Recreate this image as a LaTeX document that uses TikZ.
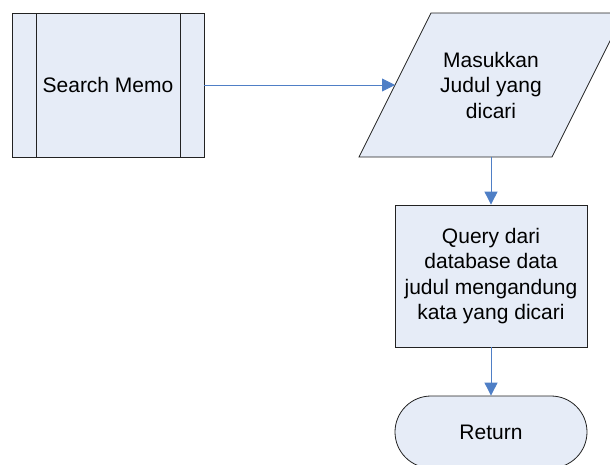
\documentclass[tikz,border=0pt]{standalone}
\usepackage{fontspec}
\setmainfont{Liberation Sans}
\usetikzlibrary{arrows.meta}
\definecolor{boxfill}{HTML}{E6ECF7}
\definecolor{linkblue}{HTML}{4F7FC6}
\definecolor{edge}{HTML}{222222}
\tikzset{
  shapebox/.style={draw=edge, line width=0.8pt, fill=boxfill, minimum width=192pt, inner sep=0pt},
  label/.style={align=center, font=\fontsize{21}{25.5}\selectfont, text=black, inner sep=0pt},
  link/.style={draw=linkblue, line width=0.9pt, -{Triangle[length=13pt,width=13pt]}},
}
\begin{document}
\begin{tikzpicture}[x=1pt,y=-1pt]
\useasboundingbox (0,0) rectangle (610,464);
\clip (0,0) rectangle (610,464);
% predefined process
\node[shapebox, minimum height=144pt] (sm) at (108,85) {};
\draw[edge, line width=0.8pt] (36,13) -- (36,157) (180,13) -- (180,157);
\node[label] (smt) at (108,85) {Search Memo};
% parallelogram (input)
\draw[draw=edge, line width=0.8pt, fill=boxfill] (431,13) -- (624,13) -- (552,157) -- (359,157) -- cycle;
\node[label] (inp) at (491,85) {Masukkan\\Judul yang\\dicari};
\coordinate (inL) at (395,85);
\coordinate (inB) at (491,157);
% process
\node[shapebox, minimum height=142pt] (q) at (491,276) {};
\node[label] (qt) at (491,276) {Query dari\\database data\\judul mengandung\\kata yang dicari};
% terminal
\node[shapebox, minimum height=72pt, rounded corners=36pt] (ret) at (491,432) {};
\node[label] (rett) at (491,432) {Return};
% connectors
\draw[link] (sm.east) -- (inL);
\draw[link] (inB) -- (q.north);
\draw[link] (q.south) -- (ret.north);
\end{tikzpicture}
\end{document}
